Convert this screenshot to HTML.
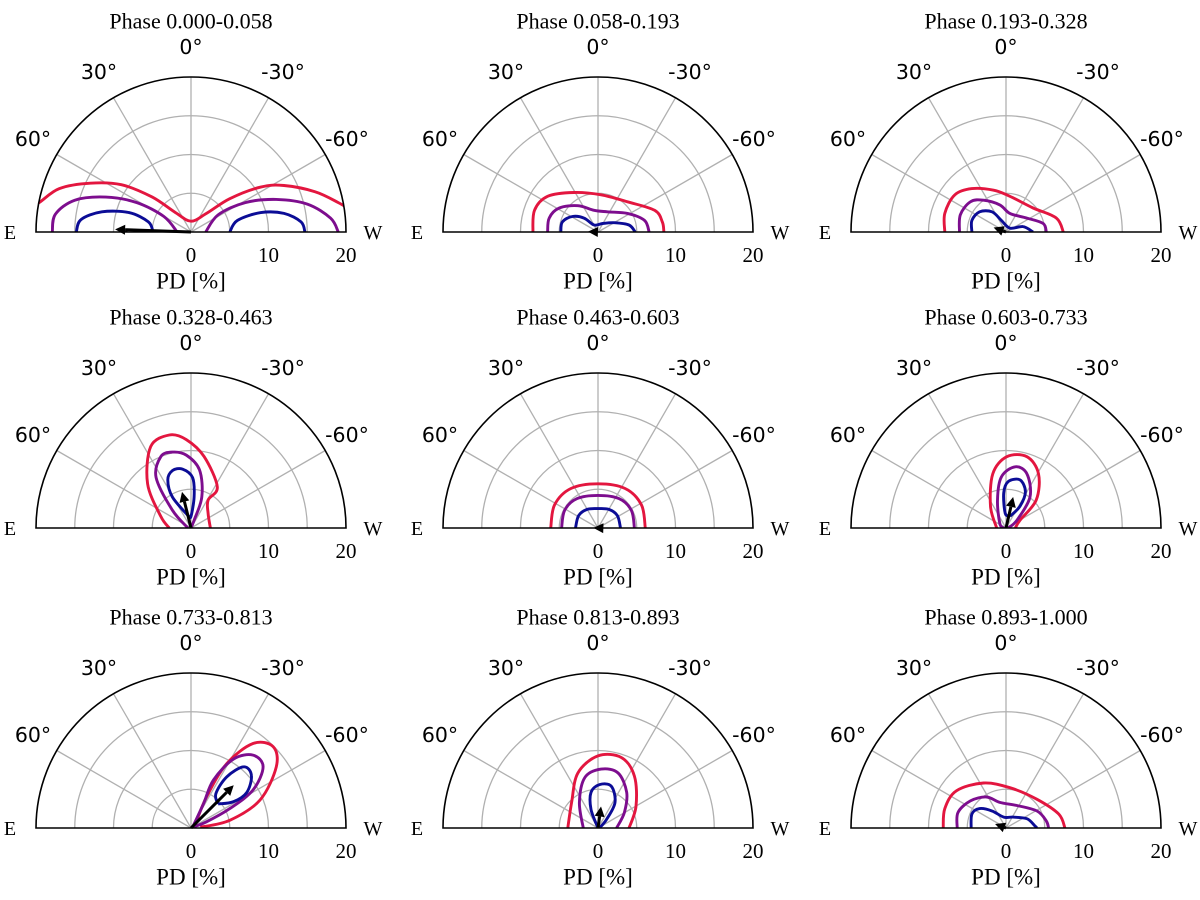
<!DOCTYPE html>
<html><head><meta charset="utf-8"><style>
body{margin:0;background:#fff;}
svg{display:block;}
.t{font-family:"Liberation Serif",serif;fill:#000;}
.s{font-family:"DejaVu Sans","Liberation Sans",sans-serif;fill:#000;}
</style></head><body>
<svg id="fig" width="1200" height="900" viewBox="0 0 1200 900"></svg>
<script>
// ---- data ----
const phases = ["Phase 0.000-0.058","Phase 0.058-0.193","Phase 0.193-0.328","Phase 0.328-0.463","Phase 0.463-0.603","Phase 0.603-0.733","Phase 0.733-0.813","Phase 0.813-0.893","Phase 0.893-1.000"];
const radialTicks = [0,10,20];
const gridRadii = [5,10,15,20];
const angleTicks = [0,30,-30,60,-60];
const levelNames = ["outer","middle","inner"];
// arrow: [PD %, angle deg] (angle + toward E)
const arrowPD = [9.8,1.3,1.7,4.8,0.6,4.1,7.8,2.8,1.5];
const arrowAng = [88,88,70,14,88,-13,-45,-8,70];
const redC = [
 [[[-21,3.2],[-19.6,3.8],[-17,5.6],[-13,6.3],[-9,6.1],[-5,4.5],[-2,2.5],[0,1.4],[2,2.4],[5,4.3],[9,5.8],[12,6],[16,5.2],[19,3.8],[21,2.6]]],
 [[[-8.4,0],[-8.2,2.8],[-6.5,4.6],[-3.1,5.1],[0.4,4.8],[3.8,3.9],[7.3,2.8],[8.3,1.3],[8.5,0]]],
 [[[-7.9,0],[-7.9,2.4],[-6.6,4.8],[-4.4,5.6],[-1.6,5.4],[0.5,4.6],[3.5,3.1],[6.5,1.8],[7.4,0]]],
 [[[-2.8,0],[-3.9,1.5],[-5.6,5.7],[-5.2,10.5],[-2.8,12],[-0.6,11.4],[1.7,9.2],[3.4,5.3],[2.2,3.6],[2.2,1.9],[2.5,0]]],
 [[[-6.1,0],[-5.6,3],[-3.5,5.1],[0,5.7],[3.5,5.1],[5.6,3],[6.1,0]]],
 [[[-1.2,0],[-2,2.8],[-1.7,7],[0.1,9.2],[2.7,9.2],[4.2,7],[3.9,3.6],[1.8,1],[1.2,0]]],
 [[[0.5,0.3],[2,4],[4.6,8.3],[8,10.9],[10.6,10.5],[11,7.9],[8.9,3.6],[5,1],[1.2,0.1]]],
 [[[-3.9,0],[-3.4,3.3],[-2.6,7.1],[0,9.3],[3,9.1],[4.7,6.7],[4.9,2.8],[4,0]]],
 [[[-8.1,0],[-7.9,2.5],[-6.4,4.8],[-2.9,5.8],[0.5,5.2],[4,3.7],[6.8,1.8],[7.6,0]]]
];
const purpleC = [
 [[[-17.9,0],[-17.5,2.3],[-15,4.1],[-11,4.5],[-7,3.8],[-3.5,2],[-1.8,0]],[[1.9,0],[3.5,2.2],[7,3.8],[11,4.2],[15,3.6],[18,1.8],[19,0]]],
 [[[-6.5,0],[-6.3,1.8],[-5,3.1],[-2.6,3.4],[-0.5,2.8],[1.2,2.6],[3.8,2.4],[6,1.5],[6.6,0]]],
 [[[-6,0],[-5.9,2.2],[-4.6,3.9],[-2.9,4.1],[-0.8,3.5],[0.5,2.4],[2.7,1.8],[4.8,1.1],[5.2,0]]],
 [[[-0.4,0],[-2.4,2.3],[-4.5,6.5],[-3.9,9.2],[-2.4,9.8],[-0.6,9.4],[1.1,7.5],[1.4,4],[0.4,1],[0,0]]],
 [[[-4.7,0],[-4.3,2.3],[-2.7,3.8],[0,4.2],[2.7,3.8],[4.3,2.3],[4.7,0]]],
 [[[-0.3,0],[-0.8,0.6],[-1.1,3.6],[-0.6,6.6],[1.2,7.9],[2.7,7],[3.1,4],[1.4,1],[0.3,0]]],
 [[[0.2,0.1],[1.6,3.1],[2.9,6.2],[5.5,8.9],[8,9.4],[9.3,7.9],[8,4.9],[5,2.5],[2,0.8],[0.2,0.1]]],
 [[[-1.9,0],[-2.4,3.3],[-1.7,6.5],[0.4,7.6],[2.6,7.1],[3.7,4.6],[3.4,2],[2.4,0]]],
 [[[-6.3,0],[-6.2,2],[-4.6,3.5],[-2.5,4],[-0.8,3.3],[1.4,2.9],[4,2.2],[5.2,0.9],[5.5,0]]]
];
const blueC = [
 [[[-14.8,0],[-14.2,1.6],[-11.5,2.6],[-8,2.5],[-5.5,1.3],[-4.9,0]],[[5,0],[6,1.5],[9,2.5],[12,2.4],[14.2,1.3],[14.7,0]]],
 [[[-4.8,0],[-4.6,1.3],[-3.3,2],[-1.8,1.8],[-0.5,0.9],[0.6,1.1],[2.1,1.2],[4,0.9],[4.8,0]]],
 [[[-4.4,0],[-4.4,1.5],[-3.4,2.6],[-1.8,2.6],[-0.6,1.5],[0.5,0.5],[2.2,0.7],[3.5,0]]],
 [[[-0.3,1.5],[-2.4,4],[-3,6.2],[-2.4,7.4],[-1.1,7.6],[0.2,6.5],[0.4,4],[0,1.5],[-0.3,1.5]]],
 [[[-2.9,0],[-2.5,1.6],[-1.4,2.4],[0,2.5],[1.4,2.4],[2.5,1.6],[2.9,0]]],
 [[[0.5,1.5],[-0.1,1.9],[-0.3,4.5],[0.3,6],[1.8,6.2],[2.5,4.7],[1.8,2.8],[0.5,1.5]]],
 [[[3.5,3.1],[3.2,4.4],[4.6,6.6],[6.8,7.9],[7.8,6.8],[7.2,4.6],[5.5,3.4],[3.5,3.1]]],
 [[[0,0],[-0.9,2.4],[-0.9,4.6],[0.2,5.6],[1.7,5.4],[2.2,3.3],[1.1,1.1],[0.2,0]]],
 [[[-4.5,0],[-4.4,1.8],[-3.4,2.5],[-1.8,2.2],[-0.3,1.4],[0.9,1.4],[2.7,1.2],[3.7,0.3],[4,0]]]
];
// ---- layout ----
const colX = [191,598,1006];
const rowY = [232,528,828];
const R = 155, MAXPD = 20;
const NS = "http://www.w3.org/2000/svg";
const svg = document.getElementById('fig');
function mk(tag, attrs, parent){const e=document.createElementNS(NS,tag);for(const k in attrs)e.setAttribute(k,attrs[k]);(parent||svg).appendChild(e);return e;}
function sx(cx,x){return cx + x*R/MAXPD;}
function sy(cy,y){return cy - y*R/MAXPD;}
function smooth(pts){
  let d='M'+pts[0][0].toFixed(1)+','+pts[0][1].toFixed(1);
  for(let i=0;i<pts.length-1;i++){
    const p0=pts[Math.max(0,i-1)],p1=pts[i],p2=pts[i+1],p3=pts[Math.min(pts.length-1,i+2)];
    const c1=[p1[0]+(p2[0]-p0[0])/6,p1[1]+(p2[1]-p0[1])/6];
    const c2=[p2[0]-(p3[0]-p1[0])/6,p2[1]-(p3[1]-p1[1])/6];
    d+=' C'+c1[0].toFixed(1)+','+c1[1].toFixed(1)+' '+c2[0].toFixed(1)+','+c2[1].toFixed(1)+' '+p2[0].toFixed(1)+','+p2[1].toFixed(1);
  }
  return d;
}
const colors=["#e3163f","#7d0d8e","#0b0c96"];
const levels=[redC,purpleC,blueC];
for(let p=0;p<9;p++){
  const cx=colX[p%3], cy=rowY[Math.floor(p/3)];
  const g=mk('g',{});
  
  
  const cp=mk('clipPath',{id:'clip'+p},g);
  mk('path',{d:`M${cx-R},${cy} A${R},${R} 0 0 1 ${cx+R},${cy} Z`},cp);
  gridRadii.forEach(r=>{ if(r<MAXPD){const c=mk('path',{d:`M${sx(cx,-r)},${cy} A${r*R/MAXPD},${r*R/MAXPD} 0 0 1 ${sx(cx,r)},${cy}`,fill:'none',stroke:'#b0b0b0','stroke-width':1.3},g);
    
    }});
  angleTicks.forEach(a=>{const rad=a*Math.PI/180;
    const l=mk('line',{x1:cx,y1:cy,x2:cx-R*Math.sin(rad),y2:cy-R*Math.cos(rad),stroke:'#b0b0b0','stroke-width':1.3},g);
    
    });
  const cg=mk('g',{'clip-path':`url(#clip${p})`},g);
  levels.forEach((lv,li)=>{
    lv[p].forEach(seg=>{
      const pts=seg.map(q=>[sx(cx,q[0]),sy(cy,q[1])]);
      const path=mk('path',{d:smooth(pts),fill:'none',stroke:colors[li],'stroke-width':2.9,'stroke-linejoin':'round'},cg);
      
      
    });
  });
  const fr=mk('path',{d:`M${cx-R},${cy} A${R},${R} 0 0 1 ${cx+R},${cy} Z`,fill:'none',stroke:'#000','stroke-width':1.6},g);
  
  
  const ar=arrowAng[p]*Math.PI/180, L=arrowPD[p]*R/MAXPD;
  const ux=-Math.sin(ar), uy=-Math.cos(ar);
  const tx=cx+ux*L, ty=cy+uy*L;
  const hl=10, hw=5;
  const bx=tx-ux*hl, by=ty-uy*hl;
  const ag=mk('g',{},g);
  
  
  if(L>hl) mk('line',{x1:cx,y1:cy,x2:bx,y2:by,stroke:'#000','stroke-width':3},ag);
  mk('polygon',{points:`${tx},${ty} ${bx-uy*hw},${by+ux*hw} ${bx+uy*hw},${by-ux*hw}`,fill:'#000'},ag);
  const tt=mk('text',{x:cx,y:cy-211,'text-anchor':'middle','dominant-baseline':'central','font-size':22,class:'t'},g);
  tt.textContent=phases[p];
  
  
  const angPos=[[0,-185],[-92,-160],[92,-160],[-158,-93],[156,-93]];
  angleTicks.forEach((a,i)=>{const t=mk('text',{x:cx+angPos[i][0],y:cy+angPos[i][1],'text-anchor':'middle','dominant-baseline':'central','font-size':20.5,class:'s'},g);
    t.textContent=a+'°';
    
    });
  [['E',-181],['W',182]].forEach(e=>{const t=mk('text',{x:cx+e[1],y:cy+1,'text-anchor':'middle','dominant-baseline':'central','font-size':20,class:'t'},g);
    t.textContent=e[0];
    
    });
  radialTicks.forEach(v=>{const t=mk('text',{x:sx(cx,v),y:cy+23,'text-anchor':'middle','dominant-baseline':'central','font-size':21,class:'t'},g);
    t.textContent=v;
    
    });
  const xl=mk('text',{x:cx,y:cy+49,'text-anchor':'middle','dominant-baseline':'central','font-size':23,class:'t'},g);
  xl.textContent='PD [%]';
  
  
}
</script>
</body></html>
